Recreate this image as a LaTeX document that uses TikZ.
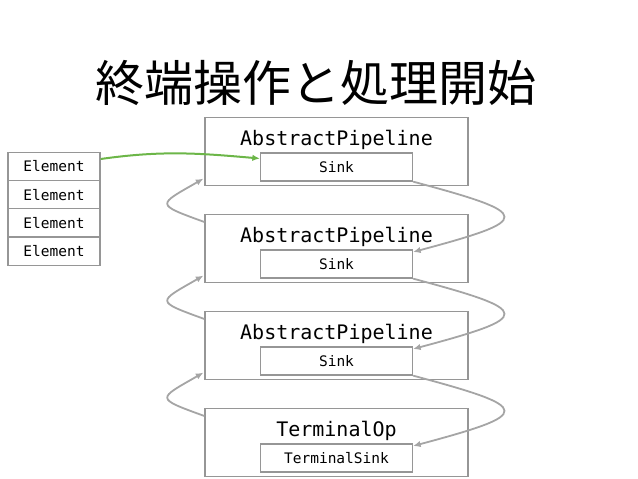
\documentclass[tikz,border=0pt]{standalone}
\usepackage{fontspec}
\setmonofont{DejaVu Sans Mono}
\newfontfamily\jpfont{Noto Sans CJK JP}
\usetikzlibrary{arrows.meta}

\definecolor{boxgray}{RGB}{150,150,150}
\definecolor{arrowgray}{RGB}{165,165,165}
\definecolor{flowgreen}{RGB}{108,182,72}

\tikzset{
  pipe/.style={draw=boxgray, line width=1.3pt, minimum width=263pt, minimum height=68pt, inner sep=0pt},
  sinkbox/.style={draw=boxgray, line width=1.3pt, minimum width=152pt, minimum height=28pt, inner sep=0pt,
    font=\ttfamily\fontsize{14.5}{16}\selectfont},
  elem/.style={draw=boxgray, line width=1.3pt, minimum width=92pt, minimum height=28.2pt, inner sep=0pt,
    font=\ttfamily\fontsize{14.5}{16}\selectfont},
  plabel/.style={anchor=base, inner sep=0pt, font=\ttfamily\fontsize{20}{24}\selectfont},
  back/.style={draw=arrowgray, line width=1.8pt, -{Latex[length=7.5pt,width=6.5pt]}},
  flow/.style={draw=flowgreen, line width=2pt, -{Latex[length=7.5pt,width=6.5pt]}}
}

\begin{document}
\begin{tikzpicture}[x=1pt,y=1pt]
\useasboundingbox (0,0) rectangle (638,479);

 \node [anchor=base, font=\jpfont\fontsize{49}{56}\selectfont] (title) at (316,377) {終端操作と処理開始};

% elements
 \node [elem] (e0) at (54,312.5) {Element};
 \node [elem] (e1) at (54,284.3) {Element};
 \node [elem] (e2) at (54,256.1) {Element};
 \node [elem] (e3) at (54,227.9) {Element};

% pipeline stages
 \node [pipe] (p1) at (336.5,327.5) {};
 \node [pipe] (p2) at (336.5,230.5) {};
 \node [pipe] (p3) at (336.5,133.5) {};
 \node [pipe] (p4) at (336.5,36.5) {};

 \node [plabel] (l1) at ([yshift=5.5pt]p1.center) {AbstractPipeline};
 \node [plabel] (l2) at ([yshift=5.5pt]p2.center) {AbstractPipeline};
 \node [plabel] (l3) at ([yshift=5.5pt]p3.center) {AbstractPipeline};
 \node [plabel] (l4) at ([yshift=5.5pt]p4.center) {TerminalOp};

 \node [sinkbox] (s1) at ([yshift=-15.5pt]p1.center) {Sink};
 \node [sinkbox] (s2) at ([yshift=-15.5pt]p2.center) {Sink};
 \node [sinkbox] (s3) at ([yshift=-15.5pt]p3.center) {Sink};
 \node [sinkbox] (s4) at ([yshift=-15.5pt]p4.center) {TerminalSink};

% start of the flow
\draw [flow] ([yshift=7.5pt]e0.east) to[out=8,in=175] ([yshift=8.5pt]s1.west);

% sink chain
\draw [back] (s1.south east) .. controls +(-15:125) and +(15:125) .. ([yshift=12pt]s2.east);
\draw [back] (s2.south east) .. controls +(-15:125) and +(15:125) .. ([yshift=12pt]s3.east);
\draw [back] (s3.south east) .. controls +(-15:125) and +(15:125) .. ([yshift=12pt]s4.east);

% back links
\draw [back] ([yshift=26.5pt]p2.west) .. controls +(160:53) and +(210:53) .. ([xshift=-1pt,yshift=7.5pt]p1.south west);
\draw [back] ([yshift=26.5pt]p3.west) .. controls +(160:53) and +(210:53) .. ([xshift=-1pt,yshift=7.5pt]p2.south west);
\draw [back] ([yshift=26.5pt]p4.west) .. controls +(160:53) and +(210:53) .. ([xshift=-1pt,yshift=7.5pt]p3.south west);
\end{tikzpicture}
\end{document}
